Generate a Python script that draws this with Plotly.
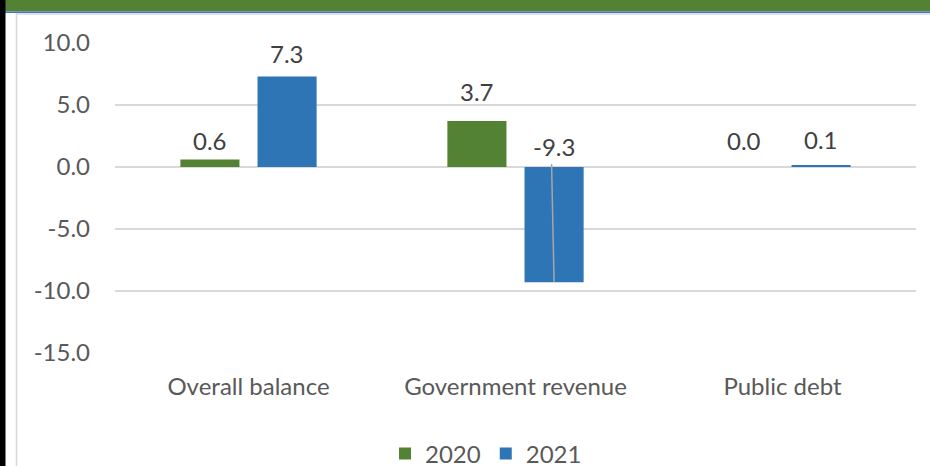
import plotly.graph_objects as go

# Fiscal indicators, change by year
categories = ["Overall balance", "Government revenue", "Public debt"]
series_names = ["2020", "2021"]
values_2020 = [0.6, 3.7, 0.0]
values_2021 = [7.3, -9.3, 0.1]
y_ticks = [10, 5, 0, -5, -10, -15]

GREEN = "#548235"
BLUE = "#2E75B6"
GRID = "#D9D9D9"
TEXT = "#595959"
FONT = "Lato"
FS = 24

# plot area in pixels
W, H = 930, 466
L, R, T, B = 115, 14, 43, 113
PW, PH = W - L - R, H - T - B

BARGAP = 0.422
BAR_OFFSET = (1 - BARGAP) / 4  # centre of each bar relative to its category

fig = go.Figure()
for name, vals, col in [(series_names[0], values_2020, GREEN),
                        (series_names[1], values_2021, BLUE)]:
    fig.add_trace(go.Bar(
        x=categories, y=vals, name=name, marker_color=col,
        marker_line_width=0, hoverinfo="skip",
    ))

# value labels (pixel lift above bar end / baseline)
label_lift = {
    "2020": [18.6, 29.8, 27.0],
    "2021": [22.7, 21.0, 25.8],
}
annotations = []
for si, (name, vals) in enumerate([(series_names[0], values_2020),
                                   (series_names[1], values_2021)]):
    off = -BAR_OFFSET if si == 0 else BAR_OFFSET
    for ci, v in enumerate(vals):
        annotations.append(dict(
            x=ci + off, y=max(v, 0), xref="x", yref="y",
            text=f"{v:.1f}", showarrow=False,
            yshift=label_lift[name][ci], yanchor="middle",
            font=dict(family=FONT, size=FS, color="#404040"),
        ))

shapes = []
# leader line from the moved "-9.3" label down into its bar
px_per_unit = PH / 25.0
shapes.append(dict(
    type="line", xref="x", yref="y",
    x0=1 + BAR_OFFSET - 2.5 / PW * 3, y0=3 / px_per_unit,
    x1=1 + BAR_OFFSET, y1=values_2021[1],
    line=dict(color="#A6A6A6", width=1.5),
))


def px_x(px):
    return (px - L) / PW


def px_y(py):
    return (H - B - py) / PH


# frame decorations: green header band, blue rule, left black border, inner grey border
shapes += [
    dict(type="rect", xref="paper", yref="paper", x0=px_x(0), x1=px_x(W),
         y0=px_y(11.5), y1=px_y(0), fillcolor=GREEN, line_width=0, layer="above"),
    dict(type="line", xref="paper", yref="paper", x0=px_x(0), x1=px_x(W),
         y0=px_y(12.2), y1=px_y(12.2), line=dict(color="#4472C4", width=1.5)),
    dict(type="line", xref="paper", yref="paper", x0=px_x(16), x1=px_x(W),
         y0=px_y(14), y1=px_y(14), line=dict(color="#D9D9D9", width=1.5)),
    dict(type="rect", xref="paper", yref="paper", x0=px_x(0), x1=px_x(5.5),
         y0=px_y(H), y1=px_y(0), fillcolor="#000000", line_width=0, layer="above"),
    dict(type="line", xref="paper", yref="paper", x0=px_x(16.5), x1=px_x(16.5),
         y0=px_y(H), y1=px_y(13), line=dict(color="#D9D9D9", width=1.5)),
]

fig.update_layout(
    width=W, height=H,
    margin=dict(l=L, r=R, t=T, b=B, pad=0),
    paper_bgcolor="white", plot_bgcolor="white",
    barmode="group", bargap=BARGAP, bargroupgap=0.234,
    font=dict(family=FONT, size=FS, color=TEXT),
    showlegend=True,
    legend=dict(
        orientation="h", xref="container", yref="container",
        x=486 / W, xanchor="center", y=(H - 454) / H, yanchor="middle",
        font=dict(family=FONT, size=FS, color=TEXT),
        itemclick=False, itemdoubleclick=False, tracegroupgap=0,
    ),
    annotations=annotations,
    shapes=shapes,
)
fig.update_xaxes(
    type="category", range=[-0.5, 2.5], showgrid=False, zeroline=False,
    showline=False, ticks="", ticklabelstandoff=17,
    tickfont=dict(family=FONT, size=FS, color=TEXT),
)
fig.update_yaxes(
    range=[-15, 10], tickvals=y_ticks, ticktext=[f"{t:.1f}" for t in y_ticks],
    showgrid=True, gridcolor=GRID, gridwidth=2,
    zeroline=True, zerolinecolor=GRID, zerolinewidth=2,
    showline=False, ticks="", ticklabelstandoff=24,
    tickfont=dict(family=FONT, size=FS, color=TEXT),
)

fig.write_html("out.html")
